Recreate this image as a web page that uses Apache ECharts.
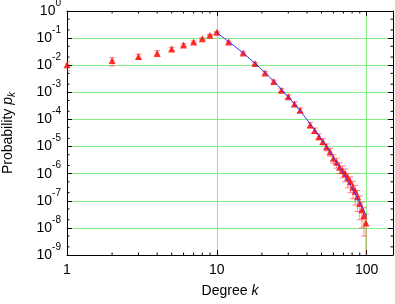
<!DOCTYPE html>
<html>
<head>
<meta charset="utf-8">
<script src="https://cdn.jsdelivr.net/npm/echarts@6/dist/echarts.min.js"></script>
<style>html,body{margin:0;padding:0;background:#fff;}#c{width:395px;height:304px;}</style>
</head>
<body>
<div id="c"></div>
<script>
// Data
const kValues = [1,2,3,4,5,6,7,8,9,10,12,15,18,21,24,27,30,33,36,42,45,48,51,54,57,60,63,66,69,72,75,78,81,84,87,90,93,96,99];
const pValues = [0.0105,0.0148,0.0208,0.0276,0.040,0.056,0.072,0.095,0.127,0.164,
  0.072,0.0284,0.0115,0.0052,0.0025,0.0012,6.9e-4,3.7e-4,2.2e-4,
  6.3e-5,3.9e-5,2.3e-5,1.55e-5,9.8e-6,6.5e-6,3.7e-6,2.63e-6,1.74e-6,1.32e-6,1.0e-6,
  7.1e-7,5.0e-7,3.16e-7,2.24e-7,1.41e-7,7.9e-8,4.7e-8,2.8e-8,1.5e-8];
const errLow = [0.0063,0.0094,0.0167,0.0207,0.034,0.048,0.066,0.088,0.119,0.155,
  0.067,0.026,0.0105,0.0047,0.0022,0.00105,5.9e-4,3.1e-4,1.8e-4,
  5.0e-5,3.1e-5,1.8e-5,1.15e-5,7.0e-6,4.4e-6,2.4e-6,1.6e-6,1.0e-6,7.0e-7,5.0e-7,
  3.0e-7,2.0e-7,1.2e-7,7e-8,4e-8,2.0e-8,1.0e-8,5e-9,1e-10];
const errHigh = [0.0136,0.0191,0.0254,0.0345,0.046,0.062,0.079,0.102,0.135,0.173,
  0.077,0.031,0.0126,0.0058,0.0028,0.00137,8.0e-4,4.4e-4,2.6e-4,
  7.6e-5,4.8e-5,2.9e-5,1.95e-5,1.25e-5,8.6e-6,5.0e-6,3.7e-6,2.5e-6,1.9e-6,1.5e-6,
  1.0e-6,7.6e-7,5.2e-7,3.7e-7,2.4e-7,1.5e-7,9.0e-8,5.6e-8,3.2e-8];
const fitK = [10,12,15,18,21,24,27,30,33,36,42,48,54,60,66,72,78,84,90,96,100];
const fitP = [0.158,0.0741,0.0282,0.01175,0.00537,0.00257,0.00129,6.76e-4,3.72e-4,2.09e-4,
  6.92e-5,2.51e-5,1.0e-5,4.07e-6,1.74e-6,7.94e-7,3.72e-7,1.78e-7,8.71e-8,4.37e-8,2.63e-8];
const xTickLabels = [1,10,100];
const yExponents = [0,-1,-2,-3,-4,-5,-6,-7,-8,-9];
const xMinorTicks = [2,3,4,5,6,7,8,9,20,30,40,50,60,70,80,90];
const yMinorTicks = [];
for (let e = -9; e < 0; e++) { yMinorTicks.push(2 * Math.pow(10, e), 5 * Math.pow(10, e)); }

const X_MIN = 1, X_MAX = 150, Y_MIN = 1e-9, Y_MAX = 1;
const FONT = 'Liberation Sans';
const GREEN = '#84f084';

const chart = echarts.init(document.getElementById('c'), null, {renderer: 'canvas'});

function isPow10(v) {
  const l = Math.log10(v);
  return Math.abs(l - Math.round(l)) < 1e-6;
}

const commonX = {
  type: 'log', logBase: 10, min: X_MIN, max: X_MAX,
  axisLine: {show: true, lineStyle: {color: '#000', width: 1}},
  axisTick: {show: true, inside: true, length: 5, lineStyle: {color: '#000'}},
  minorTick: {show: false}
};
const commonY = {
  type: 'log', logBase: 10, min: Y_MIN, max: Y_MAX, interval: 1, splitNumber: 9,
  axisLine: {show: true, lineStyle: {color: '#000', width: 1}},
  axisTick: {show: true, inside: true, length: 5, lineStyle: {color: '#000'}},
  minorTick: {show: false}
};

const option = {
  animation: false,
  backgroundColor: '#fff',
  textStyle: {fontFamily: FONT},
  grid: {left: 67, right: 2, top: 11, bottom: 49, containLabel: false, outerBoundsMode: 'none'},
  xAxis: [
    Object.assign({}, commonX, {
      position: 'bottom',
      name: 'Degree {i|k}',
      nameLocation: 'middle',
      nameGap: 29,
      nameTextStyle: {fontFamily: FONT, fontSize: 14, color: '#000',
        rich: {i: {fontFamily: FONT, fontSize: 14, fontStyle: 'italic', color: '#000'}}},
      axisLabel: {
        show: true, margin: 8, color: '#000', fontFamily: FONT, fontSize: 14,
        showMaxLabel: false,
        formatter: v => (isPow10(v) && xTickLabels.indexOf(Math.round(v)) >= 0) ? String(Math.round(v)) : ''
      },
      splitLine: {show: true, lineStyle: {color: GREEN, width: 1}}
    }),
    Object.assign({}, commonX, {
      position: 'top',
      axisLabel: {show: false},
      splitLine: {show: false}
    })
  ],
  yAxis: [
    Object.assign({}, commonY, {
      position: 'left',
      name: 'Probability {i|p}{s|k}',
      nameLocation: 'middle',
      nameGap: 50,
      nameRotate: 90,
      nameTextStyle: {fontFamily: FONT, fontSize: 14, color: '#000',
        rich: {
          i: {fontFamily: FONT, fontSize: 14, fontStyle: 'italic', color: '#000'},
          s: {fontFamily: FONT, fontSize: 10, fontStyle: 'italic', color: '#000', padding: [8, 0, 0, 0]}
        }},
      axisLabel: {
        show: true, margin: 6, color: '#000',
        formatter: v => '{b|10}{s|' + Math.round(Math.log10(v)) + '}',
        rich: {
          b: {fontFamily: FONT, fontSize: 14, color: '#000', lineHeight: 14},
          s: {fontFamily: FONT, fontSize: 10, color: '#000', lineHeight: 10, padding: [0, 0, 10, 0], verticalAlign: 'bottom'}
        }
      },
      splitLine: {show: true, lineStyle: {color: GREEN, width: 1}}
    }),
    Object.assign({}, commonY, {
      position: 'right',
      axisLabel: {show: false},
      splitLine: {show: false}
    })
  ],
  series: [
    {
      type: 'custom', name: 'errorbars', coordinateSystem: 'cartesian2d',
      xAxisIndex: 0, yAxisIndex: 0, clip: true, z: 2,
      data: kValues.map((k, i) => [k, errLow[i], errHigh[i]]),
      renderItem: function (params, api) {
        const k = api.value(0);
        const hi = api.coord([k, api.value(2)]);
        const lo = api.coord([k, api.value(1)]);
        const w = 3;
        const st = {stroke: 'rgba(255,60,60,0.6)', lineWidth: 1};
        return {type: 'group', children: [
          {type: 'line', shape: {x1: hi[0], y1: hi[1], x2: lo[0], y2: lo[1]}, style: st},
          {type: 'line', shape: {x1: hi[0] - w, y1: hi[1], x2: hi[0] + w, y2: hi[1]}, style: st},
          {type: 'line', shape: {x1: lo[0] - w, y1: lo[1], x2: lo[0] + w, y2: lo[1]}, style: st}
        ]};
      }
    },
    {
      type: 'scatter', name: 'data', xAxisIndex: 0, yAxisIndex: 0, z: 3,
      symbol: 'triangle', symbolSize: 7,
      itemStyle: {color: '#ff0000'},
      data: kValues.map((k, i) => [k, pValues[i]])
    },
    {
      type: 'line', name: 'fit', xAxisIndex: 0, yAxisIndex: 0, z: 4,
      showSymbol: false, symbol: 'none',
      lineStyle: {color: '#3535f5', width: 1},
      data: fitK.map((k, i) => [k, fitP[i]])
    },
    {
      type: 'custom', name: 'xminor', coordinateSystem: 'cartesian2d',
      xAxisIndex: 0, yAxisIndex: 0, z: 5, silent: true,
      data: xMinorTicks.map(v => [v]),
      renderItem: function (params, api) {
        const v = api.value(0);
        const b = api.coord([v, Y_MIN]);
        const t = api.coord([v, Y_MAX]);
        const st = {stroke: '#000', lineWidth: 1};
        return {type: 'group', children: [
          {type: 'line', shape: {x1: b[0], y1: b[1], x2: b[0], y2: b[1] - 2.5}, style: st},
          {type: 'line', shape: {x1: t[0], y1: t[1], x2: t[0], y2: t[1] + 2.5}, style: st}
        ]};
      }
    },
    {
      type: 'custom', name: 'yminor', coordinateSystem: 'cartesian2d',
      xAxisIndex: 0, yAxisIndex: 0, z: 5, silent: true,
      data: yMinorTicks.map(v => [X_MIN, v]),
      renderItem: function (params, api) {
        const v = api.value(1);
        const l = api.coord([X_MIN, v]);
        const r = api.coord([X_MAX, v]);
        const st = {stroke: '#000', lineWidth: 1};
        return {type: 'group', children: [
          {type: 'line', shape: {x1: l[0], y1: l[1], x2: l[0] + 2.5, y2: l[1]}, style: st},
          {type: 'line', shape: {x1: r[0], y1: r[1], x2: r[0] - 2.5, y2: r[1]}, style: st}
        ]};
      }
    }
  ]
};
chart.setOption(option);
</script>
</body>
</html>
